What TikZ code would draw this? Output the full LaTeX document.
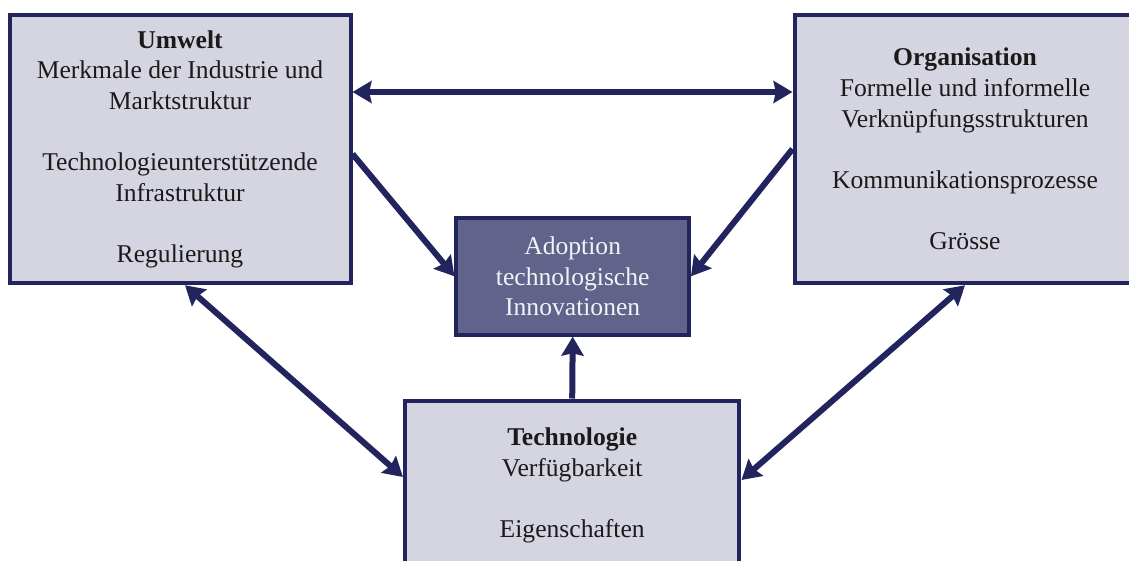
\documentclass[tikz,border=0pt]{standalone}
\usepackage{fontspec}
\setmainfont{Liberation Serif}
\usepackage{tikz}
\usetikzlibrary{arrows.meta}
\definecolor{cmarine}{HTML}{22245E}
\definecolor{chell}{HTML}{D4D5E0}
\definecolor{cviolett}{HTML}{61638A}
\definecolor{ctext}{HTML}{1A1A1A}
\tikzset{
  kasten/.style={rectangle, draw=cmarine, fill=chell, line width=2pt,
    align=center, text=ctext, inner sep=0pt, font=\fontsize{12.8}{15.3}\selectfont},
  kastend/.style={kasten, fill=cviolett, text=white!92!cviolett},
  pfeil/.style={-{Stealth[length=9.5pt,width=11pt,inset=1.2pt]}, line width=3pt, draw=cmarine},
  dpfeil/.style={pfeil, {Stealth[length=9.5pt,width=11pt,inset=1.2pt]}-{Stealth[length=9.5pt,width=11pt,inset=1.2pt]}},
}

\begin{document}
\begin{tikzpicture}[x=0.5pt,y=-0.5pt]
  \useasboundingbox (0,0) rectangle (1129,561);
  \node[kasten, minimum width=170.5pt, minimum height=134.25pt] (umw) at (180,149)
    {\textbf{Umwelt}\\Merkmale der Industrie und\\Marktstruktur\\[15.3pt]Technologieunterstützende\\Infrastruktur\\[15.3pt]Regulierung};
  \node[kasten, minimum width=170.5pt, minimum height=134.25pt] (org) at (965,149)
    {\textbf{Organisation}\\Formelle und informelle\\Verknüpfungsstrukturen\\[15.3pt]Kommunikationsprozesse\\[15.3pt]Grösse};
  \node[kastend, minimum width=116.25pt, minimum height=58.35pt] (adopt) at (572.7,276.3)
    {Adoption\\technologische\\Innovationen};
  \node[kasten, minimum width=167.25pt, minimum height=85pt] (tech) at (572.2,485.5)
    {\textbf{Technologie}\\Verfügbarkeit\\[15.3pt]Eigenschaften};
  \draw[dpfeil] ([yshift=28.5pt]umw.east) -- ([yshift=28.5pt]org.west);
  \draw[pfeil] ([yshift=-2.5pt]umw.east) -- (adopt.west);
  \draw[pfeil] (org.west) -- (adopt.east);
  \draw[pfeil] (tech.north) -- (adopt.south);
  \draw[dpfeil] ([xshift=2.5pt]umw.south) -- ([yshift=4.25pt]tech.west);
  \draw[dpfeil] (org.south) -- ([yshift=2.75pt]tech.east);
\end{tikzpicture}
\end{document}
